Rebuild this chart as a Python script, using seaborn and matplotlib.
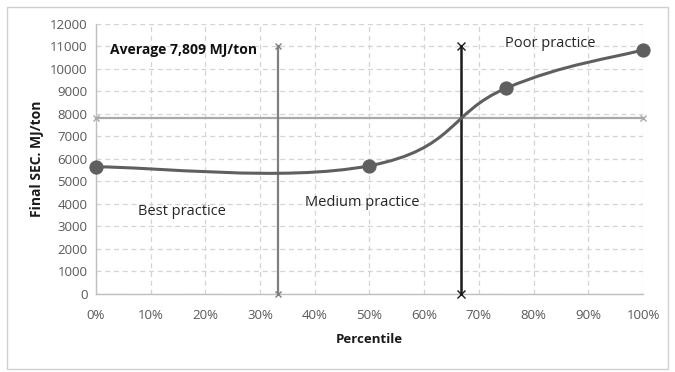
import numpy as np
import matplotlib
matplotlib.use("Agg")
import matplotlib.pyplot as plt
import seaborn as sns
from matplotlib.path import Path
from matplotlib.patches import PathPatch, Rectangle

# Data
percentile = [0.0, 0.50, 0.75, 1.0]
final_sec = [5650, 5700, 9150, 10850]
average_sec = 7809
boundaries = [1 / 3, 2 / 3]
boundary_top = 11000
x_ticks = [0.0, 0.1, 0.2, 0.3, 0.4, 0.5, 0.6, 0.7, 0.8, 0.9, 1.0]
y_ticks = list(range(0, 12001, 1000))

sns.set_theme(style="white")
plt.rcParams["font.family"] = ["Open Sans", "DejaVu Sans"]

fig = plt.figure(figsize=(6.75, 3.72), dpi=100)
ax = fig.add_axes([0.1422, 0.2097, 0.8104, 0.7258])

# outer frame like the Excel chart area
fig.patches.append(Rectangle((0.011, 0.008), 0.978, 0.973, transform=fig.transFigure,
                             fill=False, edgecolor="#d0d0d0", linewidth=1))

# dashed grid
ax.set_xticks(x_ticks)
ax.set_yticks(y_ticks)
ax.grid(True, which="major", color="#d4d4d4", linestyle=(0, (4, 3)), linewidth=0.9)

# smoothed curve (Excel style bezier through the points)
pts = np.column_stack([percentile, final_sec]).astype(float)
verts = [tuple(pts[0])]
codes = [Path.MOVETO]
n = len(pts)
tension = 0.21
for i in range(n - 1):
    p_prev = pts[max(i - 1, 0)]
    p0 = pts[i]
    p1 = pts[i + 1]
    p_next = pts[min(i + 2, n - 1)]
    c1 = p0 + (p1 - p_prev) * tension
    c2 = p1 - (p_next - p0) * tension
    verts += [tuple(c1), tuple(c2), tuple(p1)]
    codes += [Path.CURVE4] * 3
ax.add_patch(PathPatch(Path(verts, codes), fill=False, edgecolor="#5f5f5f",
                       linewidth=2.2, zorder=4, clip_on=False))
sns.scatterplot(x=percentile, y=final_sec, ax=ax, s=90, color="#5f5f5f",
                edgecolor="#5f5f5f", zorder=5, legend=False, clip_on=False)

# average line
ax.plot([0, 1], [average_sec, average_sec], color="#a9a9a9", linewidth=1.6,
        marker="x", markersize=5, zorder=3, clip_on=False)

# practice boundaries
ax.plot([boundaries[0]] * 2, [0, boundary_top], color="#7f7f7f", linewidth=1.6,
        marker="x", markersize=5, zorder=3, clip_on=False)
ax.plot([boundaries[1]] * 2, [0, boundary_top], color="#1a1a1a", linewidth=1.8,
        marker="x", markersize=6, zorder=3, clip_on=False)

ax.set_xlim(0, 1)
ax.set_ylim(0, 12000)
ax.set_xticklabels([f"{int(round(t * 100))}%" for t in x_ticks])
ax.tick_params(axis="both", labelsize=9.5, colors="#595959", length=0)
ax.tick_params(axis="x", pad=11)
ax.tick_params(axis="y", pad=6)

for side in ["top", "right"]:
    ax.spines[side].set_visible(False)
for side in ["left", "bottom"]:
    ax.spines[side].set_color("#bfbfbf")
    ax.spines[side].set_linewidth(1)

ax.set_xlabel("Percentile", fontsize=9.5, fontweight="bold", color="#1a1a1a", labelpad=8)
ax.set_ylabel("Final SEC. MJ/ton", fontsize=10, fontweight="bold", color="#1a1a1a", labelpad=4)

ax.text(0.025, 10850, "Average 7,809 MJ/ton", fontsize=10, fontweight="bold",
        color="#111111", va="center")
ax.text(0.157, 3650, "Best practice", fontsize=10.5, color="#262626", ha="center", va="center")
ax.text(0.486, 4050, "Medium practice", fontsize=10.5, color="#262626", ha="center", va="center")
ax.text(0.83, 11150, "Poor practice", fontsize=10.5, color="#262626", ha="center", va="center")

fig.savefig("out.png", dpi=100, facecolor="white")
